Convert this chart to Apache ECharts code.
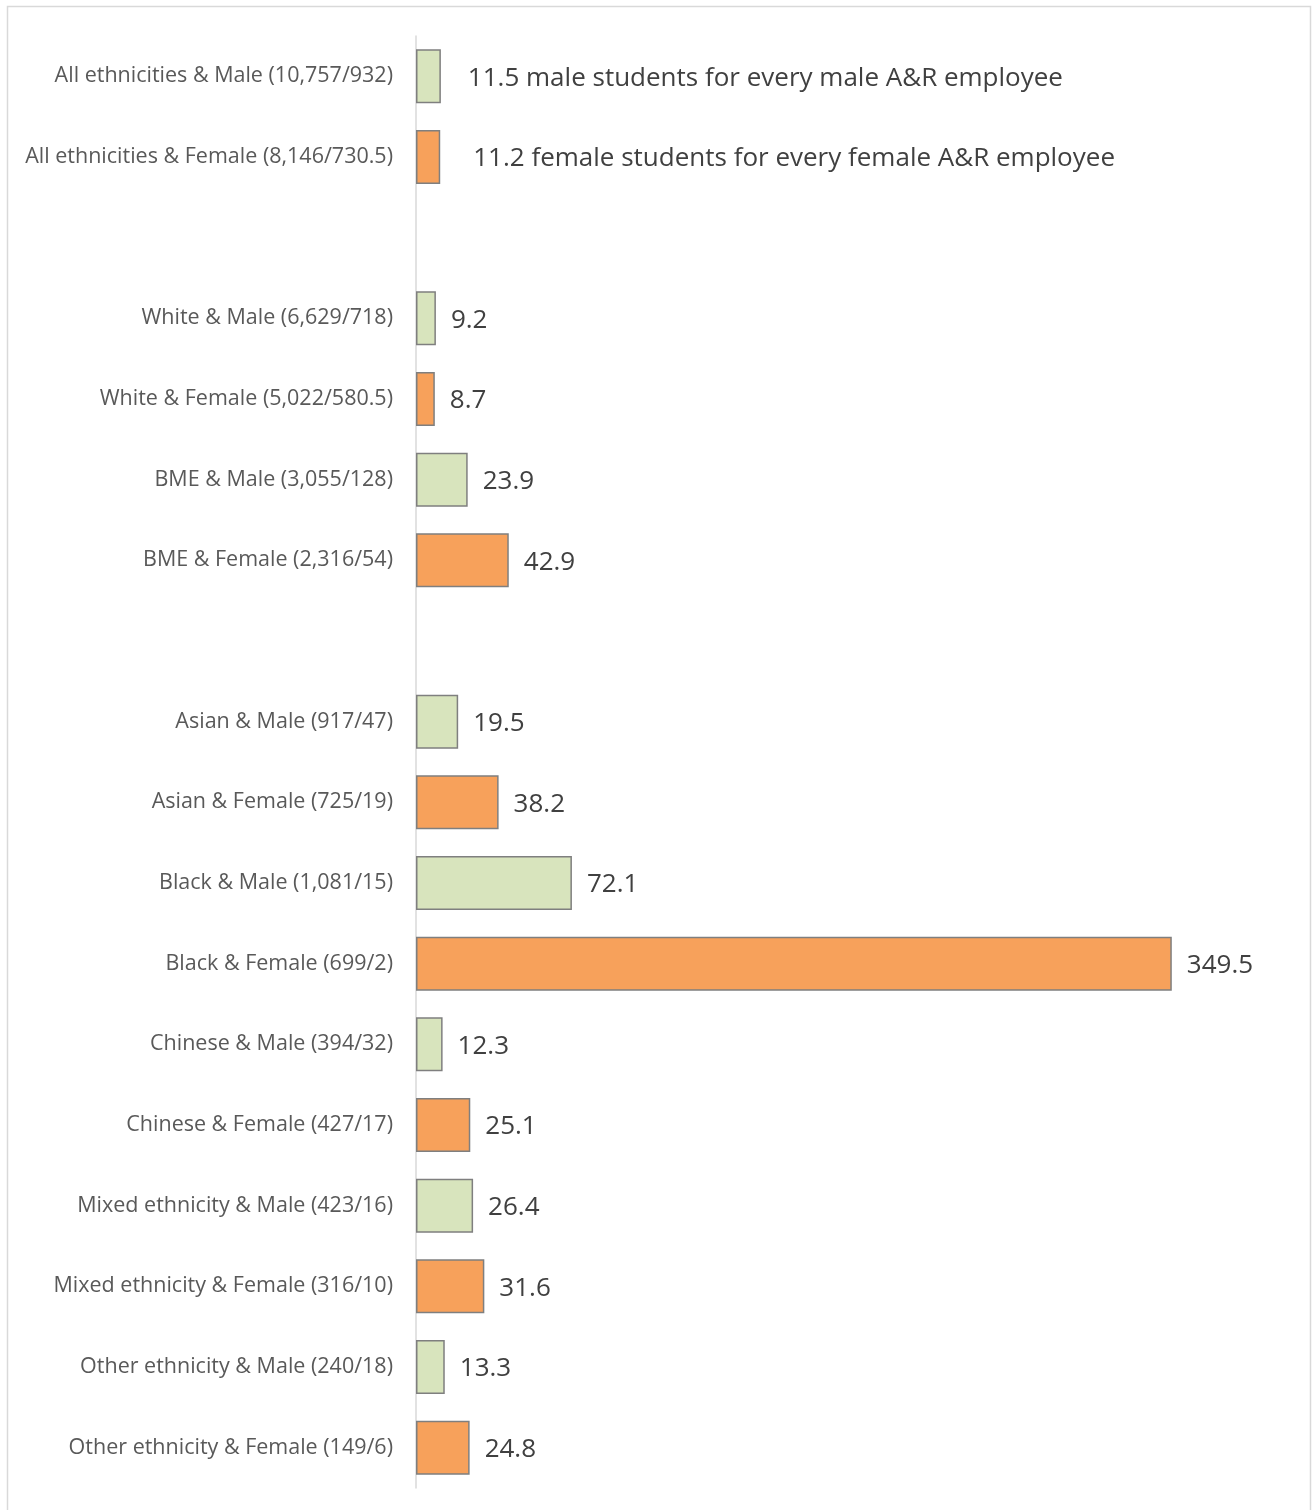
<!DOCTYPE html>
<html>
<head>
<meta charset="utf-8">
<script src="https://cdn.jsdelivr.net/npm/echarts@6/dist/echarts.min.js"></script>
<style>
  html, body { margin: 0; padding: 0; background: #ffffff; }
  #chart { width: 1316px; height: 1510px; }
</style>
</head>
<body>
<div id="chart"></div>
<script>
// Students per A&R employee, by ethnicity and gender (students / employees)
const categories = [
  'All ethnicities & Male (10,757/932)',
  'All ethnicities & Female (8,146/730.5)',
  '',
  'White & Male (6,629/718)',
  'White & Female (5,022/580.5)',
  'BME & Male (3,055/128)',
  'BME & Female (2,316/54)',
  '',
  'Asian & Male (917/47)',
  'Asian & Female (725/19)',
  'Black & Male (1,081/15)',
  'Black & Female (699/2)',
  'Chinese & Male (394/32)',
  'Chinese & Female (427/17)',
  'Mixed ethnicity & Male (423/16)',
  'Mixed ethnicity & Female (316/10)',
  'Other ethnicity & Male (240/18)',
  'Other ethnicity & Female (149/6)'
];
const ratios = [11.5, 11.2, null, 9.2, 8.7, 23.9, 42.9, null, 19.5, 38.2, 72.1, 349.5, 12.3, 25.1, 26.4, 31.6, 13.3, 24.8];
const genders = ['M', 'F', '', 'M', 'F', 'M', 'F', '', 'M', 'F', 'M', 'F', 'M', 'F', 'M', 'F', 'M', 'F'];
const customLabels = {
  0: '11.5 male students for every male A&R employee',
  1: '11.2 female students for every female A&R employee'
};

const COLORS = { M: '#D8E4BD', F: '#F7A15B' };
const FONT = '"Open Sans", Lato, sans-serif';

const seriesData = ratios.map((v, i) => {
  if (v === null) return { value: null };
  const item = {
    value: v,
    itemStyle: { color: COLORS[genders[i]] }
  };
  if (customLabels[i] !== undefined) {
    item.label = {
      formatter: customLabels[i],
      distance: i === 0 ? 27 : 33
    };
  }
  return item;
});

const chart = echarts.init(document.getElementById('chart'), null, { renderer: 'canvas' });
chart.setOption({
  animation: false,
  backgroundColor: '#ffffff',
  graphic: [{
    type: 'rect',
    shape: { x: 7.5, y: 6.5, width: 1303, height: 1520 },
    style: { fill: 'none', stroke: '#d9d9d9', lineWidth: 1.5 },
    silent: true
  }],
  grid: { left: 416, right: 35, top: 36, bottom: 22, containLabel: false },
  xAxis: {
    type: 'value',
    min: 0,
    max: 400,
    show: false
  },
  yAxis: {
    type: 'category',
    data: categories,
    inverse: true,
    axisLine: { show: true, lineStyle: { color: '#d9d9d9', width: 1.5 } },
    axisTick: { show: false },
    axisLabel: {
      margin: 23,
      color: '#595959',
      fontSize: 21.5,
      fontFamily: FONT,
      padding: [4, 0, 0, 0]
    }
  },
  series: [{
    type: 'bar',
    data: seriesData,
    barCategoryGap: '33%',
    itemStyle: { borderColor: '#7f7f7f', borderWidth: 1.5 },
    label: {
      show: true,
      position: 'right',
      distance: 15,
      offset: [0, 2],
      color: '#404040',
      fontSize: 26,
      fontFamily: FONT
    }
  }]
});
</script>
</body>
</html>
